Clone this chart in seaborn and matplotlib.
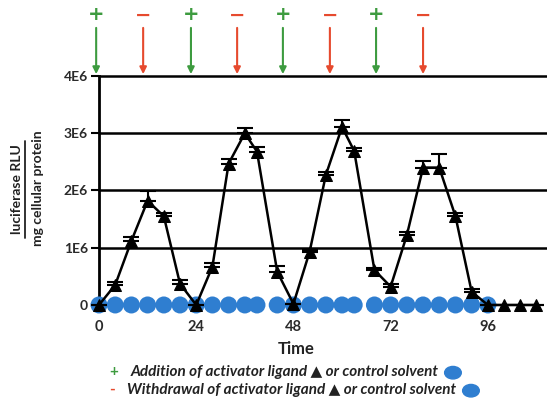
import matplotlib
matplotlib.use('Agg')
import matplotlib.pyplot as plt
import seaborn as sns
import pandas as pd
import numpy as np
from matplotlib.offsetbox import TextArea, HPacker, DrawingArea, AnchoredOffsetbox
from matplotlib.patches import Ellipse
from matplotlib.lines import Line2D

# activator ligand time course (hours) and luciferase signal
time_h = [0, 4, 8, 12, 16, 20, 24, 28, 32, 36, 39, 44, 48, 52, 56, 60, 63,
          68, 72, 76, 80, 84, 88, 92, 96, 100, 104, 108]
ligand_rlu = [0, 0.35e6, 1.12e6, 1.82e6, 1.55e6, 0.37e6, 0, 0.67e6, 2.47e6,
              3.0e6, 2.68e6, 0.58e6, 0.02e6, 0.93e6, 2.27e6, 3.11e6, 2.69e6,
              0.61e6, 0.32e6, 1.22e6, 2.4e6, 2.4e6, 1.55e6, 0.23e6, 0, 0, 0, 0]
ligand_err = [0, 0.06e6, 0.06e6, 0.17e6, 0.06e6, 0.06e6, 0, 0.07e6, 0.08e6,
              0.1e6, 0.08e6, 0.1e6, 0, 0.03e6, 0.05e6, 0.12e6, 0.06e6,
              0.04e6, 0.05e6, 0.05e6, 0.12e6, 0.23e6, 0.05e6, 0.05e6, 0, 0, 0, 0]

# control solvent
control_time = [0, 4, 8, 12, 16, 20, 24, 28, 32, 36, 39, 44, 48, 52, 56, 60,
                63, 68, 72, 76, 80, 84, 88, 92, 96]
control_rlu = [0] * len(control_time)

# addition (+) / withdrawal (-) events
add_times = [-0.7, 22.7, 45.4, 68.4]
withdraw_times = [10.9, 34.1, 57.0, 80.0]

yticks = [0, 1e6, 2e6, 3e6, 4e6]
ytick_labels = ['0', '1E6', '2E6', '3E6', '4E6']
xticks = [0, 24, 48, 72, 96]

GREEN = '#3d9b3f'
RED = '#e64a2e'
BLUE = '#2f7ed0'

sns.set_style('white')
plt.rcParams['font.family'] = ['Lato', 'DejaVu Sans']

fig = plt.figure(figsize=(5.47, 4.05), dpi=100)
W, H = 547, 405
ax = fig.add_axes([99 / W, 1 - 310.7 / H, 448 / W, (310.7 - 76) / H])

df = pd.DataFrame({'time': time_h, 'rlu': ligand_rlu, 'err': ligand_err})
ctrl = pd.DataFrame({'time': control_time, 'rlu': control_rlu})

for yv in yticks[1:]:
    ax.axhline(yv, color='black', lw=1.8, zorder=1, clip_on=False)

sns.scatterplot(data=ctrl, x='time', y='rlu', ax=ax, color=BLUE, s=150,
                edgecolor='none', zorder=3, clip_on=False, legend=False)

ax.errorbar(df['time'], df['rlu'], yerr=[np.zeros(len(df)), df['err']],
            fmt='none', ecolor='black', elinewidth=1.5, capsize=6,
            capthick=1.5, zorder=4, clip_on=False)
sns.lineplot(data=df, x='time', y='rlu', ax=ax, color='black', lw=1.8,
             marker='^', markersize=9, markeredgecolor='black',
             zorder=5, clip_on=False)

ax.set_xlim(0, 110.6)
ax.set_ylim(-0.1e6, 4e6)
ax.set_yticks(yticks)
ax.set_yticklabels(ytick_labels)
ax.set_xticks(xticks)
ax.set_xticklabels([str(t) for t in xticks])
ax.tick_params(axis='y', length=6, width=1.5, color='black', direction='out',
               left=True, labelsize=10, labelcolor='#2a2a2a', pad=2)
ax.tick_params(axis='x', length=0, labelsize=10.5, labelcolor='#2a2a2a', pad=7)
for lbl in ax.get_xticklabels() + ax.get_yticklabels():
    lbl.set_fontweight('bold')

for s in ['top', 'right', 'bottom']:
    ax.spines[s].set_visible(False)
ax.spines['left'].set_color('black')
ax.spines['left'].set_linewidth(2)

ax.set_ylabel('')
ax.set_xlabel('Time', fontsize=12, fontweight='bold', color='#222222')
ax.xaxis.set_label_coords(197 / 448, -0.13)

# y label as a fraction
fig.text(17 / W, 1 - 189 / H, 'luciferase RLU', rotation=90, fontsize=10,
         fontweight='bold', ha='center', va='center', color='#222222')
fig.text(38 / W, 1 - 188 / H, 'mg cellular protein', rotation=90, fontsize=10,
         fontweight='bold', ha='center', va='center', color='#222222')
fig.add_artist(Line2D([25 / W, 25 / W], [1 - 141 / H, 1 - 238 / H],
                      transform=fig.transFigure, color='#222222', lw=1.3))

# event arrows above the plot
trans = ax.get_xaxis_transform()
for times, col, sign in [(add_times, GREEN, '+'), (withdraw_times, RED, '\u2212')]:
    for t in times:
        ax.annotate('', xy=(t, 1.008), xytext=(t, 1.205), xycoords=trans,
                    textcoords=trans, annotation_clip=False,
                    arrowprops=dict(arrowstyle='-|>', color=col, lw=1.5,
                                    mutation_scale=10, shrinkA=0, shrinkB=0))
        ax.text(t, 1.26, sign, transform=trans, ha='center', va='center',
                fontsize=14, fontweight='bold', color=col,
                family=['DejaVu Sans'], clip_on=False)

# legend text below the plot
def legend_row(sign, col, text, y_px):
    blob = DrawingArea(13, 9, 0, 0)
    blob.add_artist(Ellipse((6.5, 4), 12, 9, color=BLUE))
    box = HPacker(children=[
        TextArea(sign, textprops=dict(color=col, fontsize=11, fontweight='bold')),
        HPacker(children=[
            TextArea(text, textprops=dict(color='#222222', fontsize=11,
                                          fontweight='bold', style='italic')),
            blob], align='center', pad=0, sep=4)],
        align='center', pad=0, sep=9)
    anc = AnchoredOffsetbox(loc='center left', child=box, frameon=False,
                            pad=0, borderpad=0,
                            bbox_to_anchor=(109 / W, 1 - y_px / H),
                            bbox_transform=fig.transFigure)
    fig.add_artist(anc)

legend_row('+', GREEN, 'Addition of activator ligand \u25b2 or control solvent', 372)
legend_row('-', RED, 'Withdrawal of activator ligand \u25b2 or control solvent', 390)

fig.savefig('out.png', dpi=100)
